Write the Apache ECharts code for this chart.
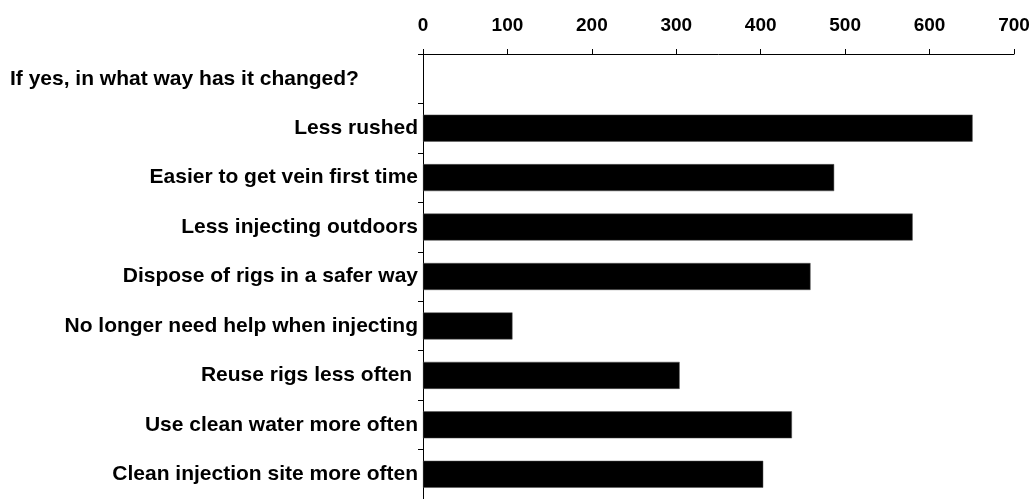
<!DOCTYPE html>
<html>
<head>
<meta charset="utf-8">
<script src="https://cdn.jsdelivr.net/npm/echarts@6/dist/echarts.min.js"></script>
<style>
  html, body { margin: 0; padding: 0; background: #fff; }
  #chart { width: 1036px; height: 499px; }
</style>
</head>
<body>
<div id="chart"></div>
<script>
// categories, top to bottom (first one is the question header, no bar)
const categories = [
  'If yes, in what way has it changed?',
  'Less rushed',
  'Easier to get vein first time',
  'Less injecting outdoors',
  'Dispose of rigs in a safer way',
  'No longer need help when injecting',
  'Reuse rigs less often ',
  'Use clean water more often',
  'Clean injection site more often'
]
const counts = [null, 651, 487, 580, 459, 106, 304, 437, 403]
const xTicks = [0, 100, 200, 300, 400, 500, 600, 700]

const chart = echarts.init(document.getElementById('chart'))

const option = {
  animation: false,
  grid: { left: 423, right: 22, top: 54, bottom: 0, containLabel: false },
  xAxis: {
    type: 'value',
    position: 'top',
    min: xTicks[0],
    max: xTicks[xTicks.length - 1],
    interval: 100,
    axisLine: { show: true, lineStyle: { color: '#000', width: 1 } },
    axisTick: { show: true, length: 5, lineStyle: { color: '#000' } },
    splitLine: { show: false },
    axisLabel: {
      color: '#000',
      fontFamily: 'Liberation Sans',
      fontWeight: 'bold',
      fontSize: 19,
      margin: 19
    }
  },
  yAxis: {
    type: 'category',
    inverse: true,
    data: categories,
    axisLine: { show: true, lineStyle: { color: '#000', width: 1 } },
    axisTick: { show: true, length: 5, lineStyle: { color: '#000' } },
    axisLabel: {
      color: '#000',
      fontFamily: 'Liberation Sans',
      fontWeight: 'bold',
      fontSize: 21,
      margin: 5,
      formatter: function (v, i) {
        return i === 0 ? '{head|' + v + '}' : v
      },
      rich: {
        head: {
          width: 408,
          align: 'left',
          color: '#000',
          fontFamily: 'Liberation Sans',
          fontWeight: 'bold',
          fontSize: 21
        }
      }
    }
  },
  series: [{
    type: 'bar',
    data: counts,
    barWidth: 27,
    itemStyle: { color: '#000', borderColor: '#555', borderWidth: 0.5 }
  }]
}

chart.setOption(option)
</script>
</body>
</html>
